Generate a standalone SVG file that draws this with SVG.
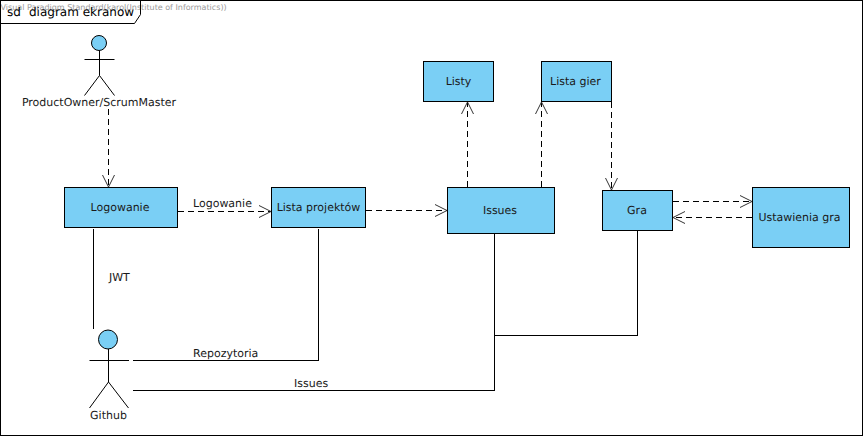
<svg xmlns="http://www.w3.org/2000/svg" width="863" height="436" viewBox="0 0 863 436">
<defs>
<style>
text{font-family:"DejaVu Sans",sans-serif;font-size:11px;fill:#1a1a1a;text-rendering:geometricPrecision}
.c{text-anchor:middle}
.box{fill:#7acff5;stroke:#000;stroke-width:1}
.head{fill:#7acff5;stroke:#000;stroke-width:1}
.l{fill:none;stroke:#000;stroke-width:1;shape-rendering:crispEdges}
.d{stroke-dasharray:6 4}
.a{fill:none;stroke:#333;stroke-width:1}
.s{fill:none;stroke:#000;stroke-width:1}
</style>
</defs>
<rect x="0.5" y="0.5" width="862" height="435" fill="#fff" stroke="#000"/>
<text x="0.5" y="10" style="font-size:8px;fill:#9a9a9a">Visual Paradigm Standard(karol(Institute of Informatics))</text>
<g id="frame"><path d="M0.5 0.5H140.5V14.500L134.500 23.500H0.5Z" fill="none" stroke="#000"/><text x="7" y="16" style="font-size:12px;fill:#000">sd</text><text x="29" y="16" style="font-size:12px;fill:#000">diagram ekranow</text></g>
<g id="connectors">
<path class="l d" d="M108.500 109V187"/><path class="a" d="M102.500 175L108.500 187L114.500 175"/>
<path class="l d" d="M178 211.500H271"/><path class="a" d="M259 205.500L271 211.500L259 217.500"/>
<path class="l d" d="M366 210.500H447"/><path class="a" d="M435 204.500L447 210.500L435 216.500"/>
<path class="l d" d="M467.500 187V102"/><path class="a" d="M461.500 114L467.500 102L473.500 114"/>
<path class="l d" d="M541.500 187V102"/><path class="a" d="M535.500 114L541.500 102L547.500 114"/>
<path class="l d" d="M611.500 102V190"/><path class="a" d="M605.500 178L611.500 190L617.500 178"/>
<path class="l d" d="M673 201.500H752"/><path class="a" d="M740 195.500L752 201.500L740 207.500"/>
<path class="l d" d="M752 217.500H673"/><path class="a" d="M685 211.500L673 217.500L685 223.500"/>
<path class="l" d="M93.500 229V329"/>
<path class="l" d="M133 360.500H318.500V229"/>
<path class="l" d="M133 390.500H494.500V234"/>
<path class="l" d="M494.500 335.500H637.500V231"/>
<text x="193" y="207">Logowanie</text>
<text x="109" y="281">JWT</text>
<text x="193" y="357">Repozytoria</text>
<text x="294" y="387">Issues</text>
</g>
<g id="actor-productowner"><circle class="head" cx="99" cy="43" r="7.500"/><path class="s" d="M84.500 59.500H114.500M99.500 50.500V75.500M99.500 75.500L84.500 95.500M99.500 75.500L114.500 95.500"/><text class="c" x="99" y="106">ProductOwner/ScrumMaster</text></g>
<g id="actor-github"><circle class="head" cx="108" cy="339.500" r="9.500"/><path class="s" d="M89.500 360.500H129M108.500 349V382M108.500 382L89.500 408M108.500 382L128.500 408"/><text class="c" x="108.500" y="419">Github</text></g>
<g id="logowanie"><rect class="box" x="64.500" y="187.500" width="113" height="40"/><text class="c" x="120" y="211">Logowanie</text></g>
<g id="lista-projektow"><rect class="box" x="271.500" y="187.500" width="94" height="40"/><text class="c" x="318.500" y="211">Lista projektów</text></g>
<g id="issues"><rect class="box" x="447.500" y="187.500" width="107" height="46"/><text class="c" x="500" y="214">Issues</text></g>
<g id="listy"><rect class="box" x="423.500" y="61.500" width="70" height="40"/><text class="c" x="458.500" y="85">Listy</text></g>
<g id="lista-gier"><rect class="box" x="541.500" y="61.500" width="70" height="40"/><text class="c" x="575.500" y="85">Lista gier</text></g>
<g id="gra"><rect class="box" x="602.500" y="190.500" width="70" height="40"/><text class="c" x="637" y="214">Gra</text></g>
<g id="ustawienia-gra"><rect class="box" x="752.500" y="187.500" width="97" height="60"/><text class="c" x="799.500" y="221">Ustawienia gra</text></g>
</svg>
